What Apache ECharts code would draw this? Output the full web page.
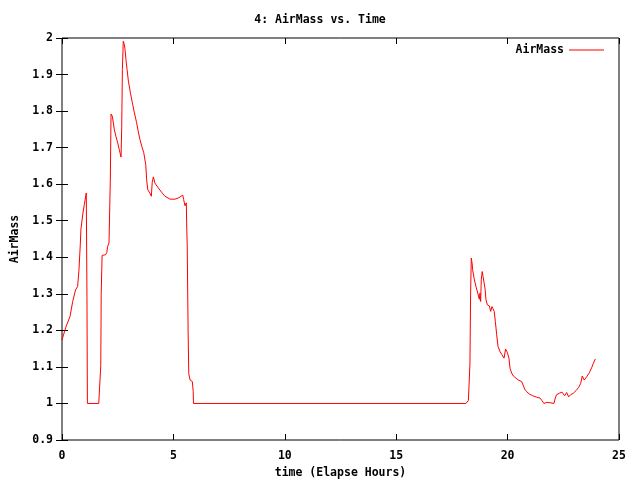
<!DOCTYPE html>
<html>
<head>
<meta charset="utf-8">
<script src="https://cdn.jsdelivr.net/npm/echarts@6/dist/echarts.min.js"></script>
<style>html,body{margin:0;padding:0;background:#fff}#c{width:640px;height:480px}</style>
</head>
<body>
<div id="c"></div>
<script>
var titleText = "4: AirMass vs. Time";
var seriesName = "AirMass";
var xName = "time (Elapse Hours)";
var yName = "AirMass";
var timeHours = [0.0,0.18,0.36,0.48,0.61,0.70,0.76,0.82,0.85,0.94,1.00,1.09,1.12,1.14,1.65,1.69,1.74,1.76,1.80,1.96,2.01,2.05,2.11,2.17,2.20,2.26,2.35,2.42,2.50,2.57,2.65,2.68,2.71,2.75,2.80,2.83,2.87,2.92,2.98,3.07,3.16,3.25,3.35,3.42,3.50,3.58,3.67,3.76,3.80,3.85,3.94,4.01,4.05,4.10,4.17,4.32,4.47,4.62,4.85,5.07,5.25,5.42,5.46,5.52,5.58,5.60,5.62,5.66,5.69,5.75,5.85,5.89,5.90,18.13,18.24,18.28,18.31,18.34,18.37,18.41,18.43,18.51,18.58,18.66,18.73,18.76,18.79,18.82,18.86,18.90,18.94,18.99,19.03,19.09,19.18,19.24,19.30,19.36,19.40,19.45,19.51,19.57,19.66,19.75,19.84,19.91,19.99,20.06,20.11,20.18,20.26,20.38,20.48,20.63,20.71,20.77,20.86,20.97,21.13,21.31,21.45,21.54,21.63,21.76,21.90,22.08,22.14,22.20,22.32,22.44,22.50,22.56,22.65,22.74,22.83,22.95,23.07,23.19,23.28,23.35,23.44,23.55,23.67,23.78,23.85,23.94];
var airMass = [1.174,1.21,1.238,1.279,1.311,1.32,1.364,1.434,1.477,1.521,1.544,1.576,1.29,1.0,1.0,1.005,1.104,1.30,1.405,1.407,1.413,1.43,1.439,1.617,1.792,1.786,1.749,1.731,1.713,1.695,1.674,1.754,1.914,1.991,1.982,1.968,1.941,1.914,1.882,1.85,1.822,1.795,1.768,1.745,1.722,1.704,1.686,1.653,1.612,1.585,1.576,1.567,1.605,1.62,1.603,1.59,1.578,1.567,1.559,1.559,1.563,1.57,1.558,1.541,1.549,1.475,1.434,1.201,1.081,1.064,1.06,1.032,1.0,1.0,1.008,1.01,1.108,1.302,1.398,1.382,1.366,1.338,1.32,1.302,1.285,1.302,1.279,1.34,1.361,1.347,1.343,1.313,1.284,1.27,1.267,1.252,1.265,1.261,1.252,1.224,1.188,1.156,1.142,1.133,1.124,1.149,1.139,1.124,1.096,1.083,1.075,1.069,1.064,1.06,1.055,1.039,1.032,1.026,1.021,1.017,1.015,1.008,1.0,1.003,1.002,1.0,1.015,1.024,1.028,1.031,1.035,1.021,1.03,1.018,1.024,1.028,1.035,1.044,1.055,1.075,1.064,1.073,1.084,1.099,1.11,1.122];

var pts = timeHours.map(function(t, i){ return [t, airMass[i]]; });
var font = "'DejaVu Sans Mono', 'Liberation Mono', monospace";
var txt = {color:'#000', fontFamily:font, fontSize:11.5, fontWeight:'bold'};

var chart = echarts.init(document.getElementById('c'), null, {renderer:'canvas'});
function xAx(pos, show){
  return {type:'value', position:pos, min:0, max:25, interval:5,
    axisLine:{show:false}, splitLine:{show:false},
    axisTick:{show:true, inside:true, length:6, lineStyle:{color:'#000', width:1}},
    axisLabel:Object.assign({show:show, margin:10}, txt),
    name: show ? xName : '', nameLocation:'middle', nameGap:27, nameTextStyle:txt};
}
function yAx(pos, show){
  return {type:'value', position:pos, min:0.9, max:2, interval:0.1,
    axisLine:{show:false}, splitLine:{show:false},
    axisTick:{show:true, inside:true, length:6, lineStyle:{color:'#000', width:1}},
    axisLabel:Object.assign({show:show, margin:9, formatter:function(v){return String(Math.round(v*10)/10);}}, txt),
    name: show ? yName : '', nameLocation:'middle', nameGap:41, nameRotate:90, nameTextStyle:txt};
}
chart.setOption({
  animation:false,
  backgroundColor:'#fff',
  title:{text:titleText, left:'center', top:9, textStyle:Object.assign({}, txt)},
  grid:{left:62, right:21, top:38, bottom:40, outerBoundsMode:'none', containLabel:false, show:true, borderColor:'#000', borderWidth:1, backgroundColor:'transparent'},
  legend:{show:true, right:31, top:39, orient:'vertical', align:'right', itemWidth:35, itemHeight:10, itemGap:5,
    textStyle:txt, data:[{name:seriesName, icon:'path://M0,0 L35,0 L35,1 L0,1 Z'}]},
  xAxis:[xAx('bottom', true), xAx('top', false)],
  yAxis:[yAx('left', true), yAx('right', false)],
  series:[{name:seriesName, type:'line', data:pts, showSymbol:false, symbol:'none',
    lineStyle:{color:'#ff0000', width:1}, itemStyle:{color:'#ff0000'}, xAxisIndex:0, yAxisIndex:0}]
});
</script>
</body>
</html>
